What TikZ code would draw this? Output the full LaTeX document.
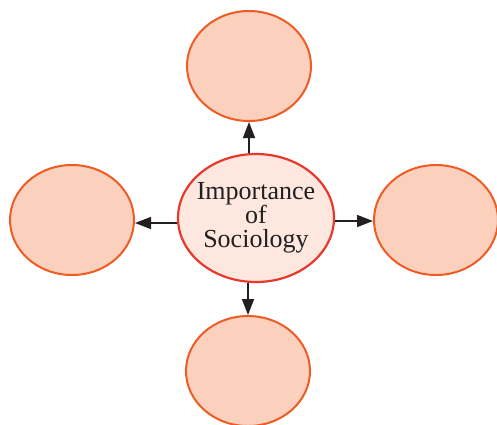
\documentclass[tikz,border=0pt]{standalone}
\usepackage{fontspec}
\setmainfont{Liberation Serif}
\usetikzlibrary{shapes.geometric,arrows.meta}
\definecolor{outfill}{HTML}{FBD0BC}
\definecolor{outline}{HTML}{EE5B24}
\definecolor{cenfill}{HTML}{FDE7DE}
\definecolor{cenline}{HTML}{E8382C}
\definecolor{arrcol}{HTML}{231F20}
\tikzset{
  outer/.style={ellipse,draw=outline,fill=outfill,line width=2pt,inner sep=0pt,minimum width=124pt,minimum height=110pt},
  central/.style={ellipse,draw=cenline,fill=cenfill,line width=2.2pt,inner sep=-10pt,minimum width=156pt,minimum height=128pt,
    align=center,font=\fontsize{26}{24}\selectfont,text=arrcol},
  arr/.style={draw=arrcol,line width=1.6pt,-{Triangle[length=16pt,width=12pt]}}
}
\begin{document}
\begin{tikzpicture}[x=1pt,y=-1pt]
\useasboundingbox (0,0) rectangle (497,424);
\clip (0,0) rectangle (497,424);
\node[central] (c) at (256,218) {Importance\\of\\Sociology};
\node[outer] (t) at (249,66) {};
\node[outer] (l) at (72,220) {};
\node[outer] (r) at (436,220) {};
\node[outer] (b) at (248,371) {};
\coordinate (cw) at ([yshift=-5pt]c.west);
\coordinate (ce) at ([yshift=-3pt]c.east);
\draw[arr] (t.south |- c.north) -- (t.south);
\draw[arr] (b.north |- c.south) -- (b.north);
\draw[arr] (cw) -- (cw -| l.east);
\draw[arr] (ce) -- (ce -| r.west);
\end{tikzpicture}
\end{document}
